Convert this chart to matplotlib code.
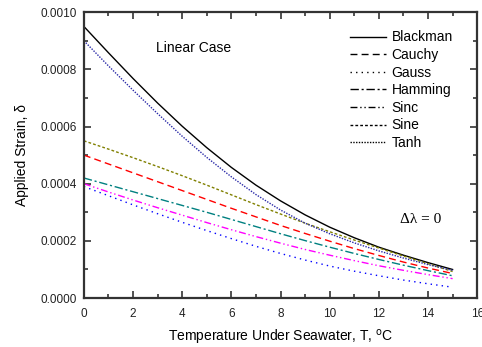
import numpy as np
import matplotlib
matplotlib.use('Agg')
import matplotlib.pyplot as plt
from matplotlib.lines import Line2D
from matplotlib.ticker import MultipleLocator, FormatStrFormatter

plt.rcParams['font.family'] = ['Liberation Sans', 'DejaVu Sans']

# temperature (deg C) and applied strain for each window function
T = np.arange(0, 16)
blackman = [0.00095, 0.000858, 0.000768, 0.000682, 0.000601, 0.000526, 0.000457, 0.000395,
            0.00034, 0.000291, 0.000248, 0.000211, 0.000178, 0.00015, 0.000124, 0.0001]
cauchy = [0.0005, 0.000469, 0.000438, 0.000407, 0.000376, 0.000345, 0.000314, 0.000284,
          0.000254, 0.000226, 0.000199, 0.000173, 0.000149, 0.000126, 0.000105, 0.000086]
gauss = [0.00039, 0.000358, 0.000326, 0.000295, 0.000265, 0.000236, 0.000208, 0.000181,
         0.000156, 0.000133, 0.000112, 0.000094, 0.000078, 0.000063, 0.00005, 0.000038]
hamming = [0.00042, 0.000396, 0.000372, 0.000348, 0.000324, 0.0003, 0.000275, 0.00025,
           0.000225, 0.000201, 0.000178, 0.000156, 0.000135, 0.000115, 0.000096, 0.000078]
sinc = [0.0004, 0.000371, 0.000343, 0.000316, 0.00029, 0.000264, 0.000239, 0.000215,
        0.000192, 0.00017, 0.00015, 0.000131, 0.000113, 0.000097, 0.000082, 0.000068]
sine = [0.00055, 0.000521, 0.000491, 0.00046, 0.000428, 0.000395, 0.000361, 0.000327,
        0.000294, 0.000262, 0.000232, 0.000203, 0.000175, 0.000147, 0.00012, 0.000093]
tanh = [0.0009, 0.000812, 0.000727, 0.000645, 0.000566, 0.000492, 0.000424, 0.000362,
        0.000308, 0.000262, 0.000225, 0.000193, 0.000165, 0.00014, 0.000117, 0.000097]

names = ['Blackman', 'Cauchy', 'Gauss', 'Hamming', 'Sinc', 'Sine', 'Tanh']
series = [blackman, cauchy, gauss, hamming, sinc, sine, tanh]
colors = ['black', 'red', 'blue', '#008080', 'magenta', '#808000', '#2a2aa8']
styles = ['-', (0, (5, 3)), (0, (1, 3)), (0, (6, 2, 1.5, 2)),
          (0, (5, 2, 1, 2, 1, 2)), (0, (2, 1.5)), (0, (1, 1))]

fig = plt.figure(figsize=(4.82, 3.47), dpi=100)
ax = fig.add_axes([0.174, 0.141, 0.816, 0.824])

for y, c, ls in zip(series, colors, styles):
    ax.plot(T, y, color=c, linestyle=ls, lw=1.0)

ax.set_xlim(0, 16)
ax.set_ylim(0, 0.001)
ax.xaxis.set_major_locator(MultipleLocator(2))
ax.xaxis.set_minor_locator(MultipleLocator(1))
ax.yaxis.set_major_locator(MultipleLocator(0.0002))
ax.yaxis.set_minor_locator(MultipleLocator(0.0001))
ax.yaxis.set_major_formatter(FormatStrFormatter('%.4f'))

for s in ax.spines.values():
    s.set_linewidth(1.6)
    s.set_color('#333333')
ax.tick_params(which='both', direction='in', top=True, right=True, width=1.2,
               color='#333333', labelsize=8.5, labelcolor='#222222')
ax.tick_params(which='major', length=5)
ax.tick_params(which='minor', length=3)
ax.tick_params(axis='x', pad=7)
ax.tick_params(axis='y', pad=5)

ax.set_xlabel('Temperature Under Seawater, T, $^{\\mathrm{o}}$C', fontsize=10, labelpad=6)
ax.set_ylabel('Applied Strain, δ', fontsize=10, labelpad=8)

ax.text(2.95, 0.00086, 'Linear Case', fontsize=10)
ax.text(13.7, 0.000262, 'Δλ = 0', fontsize=11, family='Liberation Serif', ha='center')

handles = [Line2D([], [], color='black', linestyle=ls, lw=1.0) for ls in styles]
ax.legend(handles, names, loc='upper right', bbox_to_anchor=(0.97, 0.98), frameon=False,
          fontsize=10, handlelength=2.6, handletextpad=0.4, labelspacing=0.26)

fig.savefig('out.png', dpi=100)
